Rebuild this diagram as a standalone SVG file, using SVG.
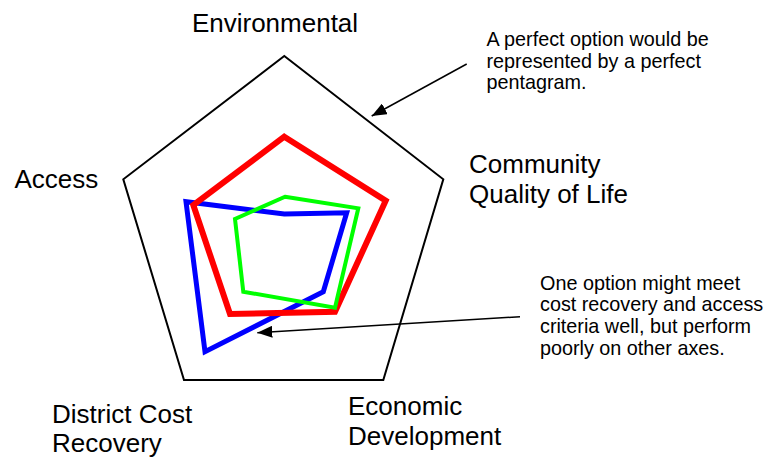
<svg xmlns="http://www.w3.org/2000/svg" width="767" height="458" viewBox="0 0 767 458">
<defs>
<marker id="ah" markerUnits="userSpaceOnUse" markerWidth="16" markerHeight="12" refX="15" refY="6" orient="auto">
<path d="M0,0 L15,6 L0,12 Z" fill="#000"/>
</marker>
<style>
.lbl{font-family:"Liberation Sans",Arial,sans-serif;font-size:26px;fill:#000}
.note{font-family:"Liberation Sans",Arial,sans-serif;font-size:19.8px;fill:#000}
.poly{fill:none;stroke-linejoin:miter}
</style>
</defs>
<rect width="767" height="458" fill="#fff"/>
<g id="frame">
<polygon class="poly" points="284.3,56 443.3,179.3 383.3,380 184,380 123.3,179.3" stroke="#000" stroke-width="2"/>
</g>
<g id="option-blue">
<polygon class="poly" points="284.3,214 346.7,212.7 323.3,291.7 205,351.7 186,201.7" stroke="#0000ff" stroke-width="5"/>
</g>
<g id="option-red">
<polygon class="poly" points="284.3,136.7 385.7,200.7 335,311.7 230,314 193.3,205" stroke="#ff0000" stroke-width="6"/>
</g>
<g id="option-green">
<polygon class="poly" points="285,196.7 358.3,208.3 335,307.7 243.3,291.7 235,219" stroke="#00ff00" stroke-width="4"/>
</g>
<g id="connectors">
<line x1="466.7" y1="64" x2="371.7" y2="116" stroke="#000" stroke-width="1.5" marker-end="url(#ah)"/>
<line x1="520" y1="316.7" x2="257.3" y2="332.7" stroke="#000" stroke-width="1.5" marker-end="url(#ah)"/>
</g>
<g id="label-environmental"><text class="lbl" x="275" y="32" text-anchor="middle">Environmental</text></g>
<g id="label-access"><text class="lbl" x="14.5" y="188">Access</text></g>
<g id="label-community"><text class="lbl" x="469" y="173">Community</text><text class="lbl" x="469" y="203">Quality of Life</text></g>
<g id="label-district"><text class="lbl" x="52" y="423">District Cost</text><text class="lbl" x="52" y="452">Recovery</text></g>
<g id="label-economic"><text class="lbl" x="348" y="415">Economic</text><text class="lbl" x="348" y="445">Development</text></g>
<g id="note-perfect"><text class="note" x="486.5" y="46">A perfect option would be</text><text class="note" x="486.5" y="67.5">represented by a perfect</text><text class="note" x="486.5" y="89">pentagram.</text></g>
<g id="note-option"><text class="note" x="540" y="289.5">One option might meet</text><text class="note" x="540" y="311.3">cost recovery and access</text><text class="note" x="540" y="333">criteria well, but perform</text><text class="note" x="540" y="354.8">poorly on other axes.</text></g>
</svg>
